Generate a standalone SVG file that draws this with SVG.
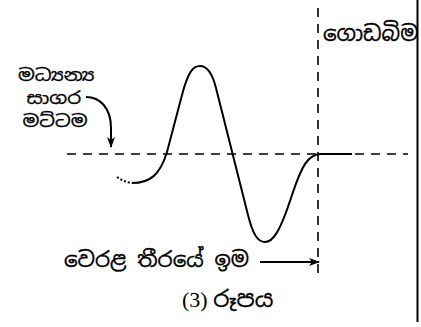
<svg xmlns="http://www.w3.org/2000/svg" width="421" height="327" viewBox="0 0 421 327">
<style>
.si{font-family:"Noto Sans Sinhala","Noto Serif Sinhala","Noto Sans",sans-serif;font-size:21.5px;fill:#000;stroke:#000;stroke-width:0.3}
.sm{font-size:16.5px}
.ser{font-family:"Liberation Serif",serif;font-size:22px;fill:#000}
.dash{fill:none;stroke:#000;stroke-width:1.6;stroke-dasharray:9 7}
.ln{fill:none;stroke:#000;stroke-width:2}
</style>
<defs>
<marker id="ah" markerWidth="11" markerHeight="8" refX="10" refY="4" orient="auto" markerUnits="userSpaceOnUse">
<path d="M0,0 L11,4 L0,8 L3,4 Z" fill="#000"/>
</marker>
</defs>
<rect width="421" height="327" fill="#fff"/>
<line x1="417.5" y1="0" x2="417.5" y2="322" stroke="#000" stroke-width="2"/>
<g id="connectors">
<line class="dash" x1="67" y1="154" x2="408" y2="154"/>
<line class="dash" x1="318" y1="8" x2="318" y2="280"/>
<path class="ln" d="M117,177 Q124,182 132,183" stroke-dasharray="2 2"/>
<path class="ln" d="M132,183 C150,183 160,175 167,152 L182,95 C188,72 193,66 200,66 C207,66 212,72 216,88 L248,215 C253,235 258,242 265,242 C273,242 280,232 292,195 C302,165 308,155 320,154 L352,154"/>
<path class="ln" d="M86,97 C100,97 111,108 111,128 L111,147" marker-end="url(#ah)"/>
<line class="ln" x1="260" y1="262" x2="319" y2="262" marker-end="url(#ah)"/>
</g>
<g id="label-msl" transform="translate(55 0) scale(1.2 1)">
<text class="si sm" text-anchor="middle" x="1" y="81">මධ්‍යන්‍ය</text>
<text class="si sm" text-anchor="middle" x="-1" y="104">සාගර</text>
<text class="si sm" text-anchor="middle" x="0" y="127">මට්ටම</text>
</g>
<g id="label-land"><text class="si" x="323" y="41">ගොඩබිම</text></g>
<g id="label-coast"><text class="si" x="64" y="267">වෙරළ තීරයේ ඉම</text></g>
<g id="caption"><text class="ser" x="182" y="307">(3) <tspan class="si" style="font-size:23px">රූපය</tspan></text></g>
</svg>
